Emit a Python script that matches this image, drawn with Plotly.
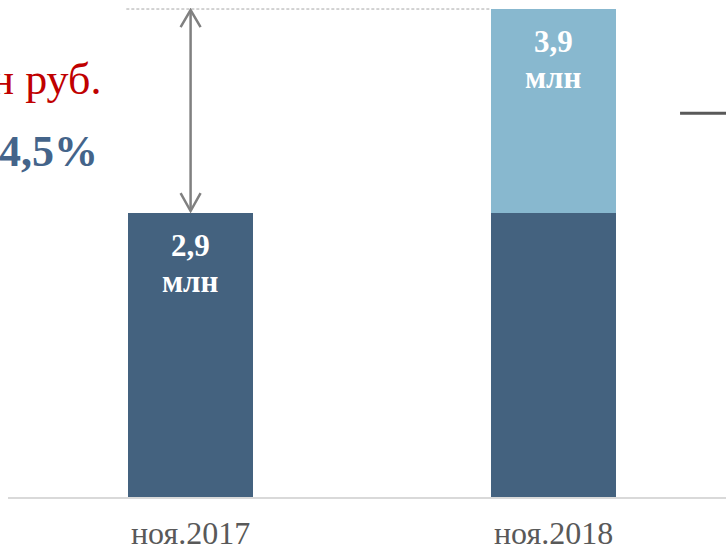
import plotly.graph_objects as go

# ---- data ----
categories = ["ноя.2017", "ноя.2018"]
base_values = [2.9, 2.9]          # dark part (level of Nov 2017)
increase_values = [0.0, 1.0]      # light part (growth in 2018)
totals = [2.9, 3.9]
unit_label = "млн"
delta_text = "+1 млн руб."
growth_text = "+34,5%"

# ---- style ----
DARK = "#44627F"
LIGHT = "#88B8CF"
RED = "#C00000"
BLUE_TXT = "#44648A"
GRAY = "#808080"
SERIF = "Liberation Serif"
BAR_W = 0.344

x = list(range(len(categories)))

fig = go.Figure()
fig.add_trace(go.Bar(x=x, y=base_values, marker=dict(color=DARK, line=dict(width=0)),
                     width=BAR_W, hoverinfo="skip"))
fig.add_trace(go.Bar(x=x, y=increase_values, marker=dict(color=LIGHT, line=dict(width=0)),
                     width=BAR_W, hoverinfo="skip"))

annotations = []
for xi, tot in zip(x, totals):
    annotations.append(dict(x=xi, y=tot, xref="x", yref="y", text=f"{tot:.1f}".replace(".", ","),
                            showarrow=False, yanchor="middle", yshift=-32,
                            font=dict(family=SERIF, size=31, color="white", weight="bold")))
    annotations.append(dict(x=xi, y=tot, xref="x", yref="y", text=unit_label,
                            showarrow=False, yanchor="middle", yshift=-68,
                            font=dict(family=SERIF, size=31, color="white", weight="bold")))

# left side texts (cut off by the frame)
annotations.append(dict(x=0.132, y=0.854, xref="paper", yref="paper", text=delta_text,
                        showarrow=False, xanchor="right", yanchor="middle",
                        font=dict(family=SERIF, size=44, color=RED)))
annotations.append(dict(x=0.128, y=0.7065, xref="paper", yref="paper", text=growth_text,
                        showarrow=False, xanchor="right", yanchor="middle",
                        font=dict(family=SERIF, size=44, color=BLUE_TXT, weight="bold")))

shapes = []
# dashed reference line at level of the 2018 total
shapes.append(dict(type="line", xref="x", yref="y", x0=x[0] - BAR_W / 2 - 0.005, x1=x[1] - BAR_W / 2,
                   y0=totals[1], y1=totals[1], line=dict(color="#A6A6A6", width=1, dash="3px,2px")))
# double arrow between the two levels
shapes.append(dict(type="line", xref="x", yref="y", x0=x[0], x1=x[0], y0=totals[0] + 0.01, y1=totals[1] - 0.005,
                   line=dict(color=GRAY, width=2.5)))
shapes.append(dict(type="path", xref="x", yref="y", xsizemode="pixel", ysizemode="pixel",
                   xanchor=x[0], yanchor=totals[1], path="M -10,-18 L 0,-1 L 10,-18",
                   line=dict(color=GRAY, width=2.5)))
shapes.append(dict(type="path", xref="x", yref="y", xsizemode="pixel", ysizemode="pixel",
                   xanchor=x[0], yanchor=totals[0], path="M -10,20 L 0,2 L 10,20",
                   line=dict(color=GRAY, width=2.5)))
# fragment of a neighbouring element on the right
shapes.append(dict(type="line", xref="paper", yref="paper", x0=0.936, x1=1.0, y0=0.785, y1=0.785,
                   line=dict(color="#595959", width=3)))

fig.update_layout(
    barmode="stack",
    width=726, height=551,
    margin=dict(l=8, r=0, t=8, b=54, autoexpand=False),
    paper_bgcolor="white", plot_bgcolor="white",
    showlegend=False,
    annotations=annotations,
    shapes=shapes,
    xaxis=dict(range=[-0.503, 1.475], tickvals=x, ticktext=categories, showgrid=False, zeroline=False,
               showline=True, linecolor="#D9D9D9", linewidth=2, ticks="", ticklabelstandoff=7,
               automargin=False,
               tickfont=dict(family=SERIF, size=32, color="#595959"), fixedrange=True),
    yaxis=dict(range=[1.508, 3.905], visible=False, showgrid=False, zeroline=False, fixedrange=True,
               automargin=False),
)

fig.write_html("out.html", config={"displayModeBar": False},
               post_script="document.body.style.margin='0';")
